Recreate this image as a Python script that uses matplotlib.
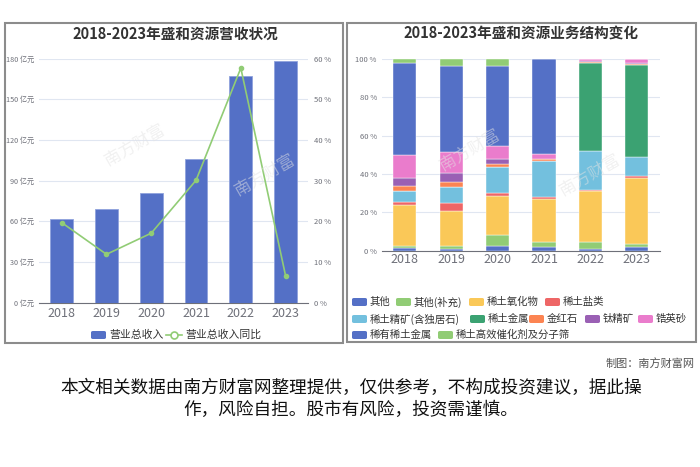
import matplotlib
matplotlib.use("Agg")
import matplotlib.pyplot as plt
from matplotlib.patches import Rectangle, FancyBboxPatch
from matplotlib.lines import Line2D
import numpy as np

plt.rcParams['font.family'] = ['Noto Sans CJK SC', 'DejaVu Sans']

years = ['2018', '2019', '2020', '2021', '2022', '2023']
revenue = [61.9, 69.3, 81.1, 105.9, 167.1, 178.3]          # 亿元
revenue_yoy = [19.7, 11.9, 17.1, 30.1, 57.7, 6.6]            # %

seg_names = ['其他', '其他(补充)', '稀土氧化物', '稀土盐类', '稀土精矿(含独居石)',
             '稀土金属', '金红石', '钛精矿', '锆英砂', '稀有稀土金属',
             '稀土高效催化剂及分子筛']
seg_other = [1.4, 1.0, 2.3, 1.9, 0.9, 2.1]
seg_other_sup = [1.0, 1.3, 5.9, 2.6, 3.8, 1.4]
seg_oxide = [21.3, 18.6, 20.1, 22.3, 26.3, 34.6]
seg_salt = [1.5, 4.0, 1.6, 1.4, 0.7, 1.1]
seg_concentrate = [6.1, 8.3, 13.8, 18.8, 20.3, 9.9]
seg_metal = [0.0, 0.0, 0.0, 0.0, 46.0, 47.8]
seg_rutile = [2.4, 2.6, 1.7, 0.7, 0.5, 0.5]
seg_ilmenite = [4.2, 4.9, 2.6, 0.0, 0.3, 0.3]
seg_zircon = [12.0, 11.0, 6.6, 2.8, 1.2, 2.3]
seg_rare_metal = [48.2, 44.5, 41.7, 49.5, 0.0, 0.0]
seg_catalyst = [1.9, 3.8, 3.7, 0.0, 0.0, 0.0]
segments = [seg_other, seg_other_sup, seg_oxide, seg_salt, seg_concentrate,
            seg_metal, seg_rutile, seg_ilmenite, seg_zircon, seg_rare_metal,
            seg_catalyst]
seg_colors = ['#5470c6', '#91cc75', '#fac858', '#ee6666', '#73c0de', '#3ba272',
              '#fc8452', '#9a60b4', '#ea7ccc', '#5470c6', '#91cc75']

W, H = 700, 467
fig = plt.figure(figsize=(W / 100, H / 100), dpi=100)
fig.patch.set_facecolor('white')

def fx(px):
    return px / W

def fy(py):
    return 1 - py / H

tick_col = '#6e7079'
grid_col = '#e0e6f1'

# panel borders
for (x0, y0, x1, y1) in [(5, 23, 343, 343), (347, 23, 696, 342)]:
    fig.add_artist(Rectangle((fx(x0), fy(y1)), fx(x1 - x0), (y1 - y0) / H,
                             transform=fig.transFigure, fill=False,
                             edgecolor='#8c8c8c', linewidth=1.5, zorder=0))

# faint watermarks inside plot areas
wm_kw = dict(transform=fig.transFigure, zorder=0.5)
for (x, y) in [(135, 145), (265, 175), (470, 150), (590, 175)]:
    fig.text(fx(x), fy(y), '南方财富', fontsize=12, color='#e3e3e3', alpha=0.5,
             ha='center', va='center', rotation=30, **wm_kw)

# ---------------- Left chart ----------------
axL = fig.add_axes([fx(39.3), fy(302.7), fx(308 - 39.3), (302.7 - 58.7) / H])
x = np.arange(len(years))
axL.bar(x, revenue, width=0.51, color='#5470c6', edgecolor='#8fa2dd',
        linewidth=0.6, zorder=3)
axL.set_xlim(-0.5, len(years) - 0.5)
axL.set_ylim(0, 180)
axL.set_yticks(np.arange(0, 181, 30))
axL.set_yticklabels([f'{v} 亿元' for v in range(0, 181, 30)], fontsize=5.2, color=tick_col)
axL.set_xticks(x)
axL.set_xticklabels(years, fontsize=9, color=tick_col)
axL.grid(axis='y', color=grid_col, linewidth=0.8, zorder=0)
for s in ['top', 'right', 'left']:
    axL.spines[s].set_visible(False)
axL.spines['bottom'].set_color(tick_col)
axL.tick_params(axis='y', length=0, pad=3.5)
axL.tick_params(axis='x', length=0, pad=3)
axL.patch.set_alpha(0)

axL2 = axL.twinx()
axL2.plot(x, revenue_yoy, color='#91cc75', linewidth=1.2, marker='o', markersize=3,
          markerfacecolor='#91cc75', markeredgecolor='#91cc75', zorder=4)
axL2.set_ylim(0, 60)
axL2.set_yticks(np.arange(0, 61, 10))
axL2.set_yticklabels([f'{v} %' for v in range(0, 61, 10)], fontsize=5.5, color=tick_col)
axL2.tick_params(axis='y', length=0, pad=4)
for s in ['top', 'right', 'left', 'bottom']:
    axL2.spines[s].set_visible(False)

fig.text(fx(175), fy(34), '2018-2023年盛和资源营收状况', fontsize=10.5, fontweight='bold',
         color='#333333', ha='center', va='center')

# left legend
fig.add_artist(FancyBboxPatch((fx(91), fy(339)), fx(15), 8 / H,
                              boxstyle='round,pad=0,rounding_size=0.003',
                              transform=fig.transFigure, facecolor='#5470c6',
                              edgecolor='none'))
fig.text(fx(109), fy(335), '营业总收入', fontsize=7.8, color='#333333', ha='left', va='center')
fig.add_artist(Line2D([fx(166), fx(182)], [fy(335), fy(335)], transform=fig.transFigure,
                      color='#91cc75', linewidth=1.2))
fig.add_artist(Line2D([fx(174)], [fy(335)], transform=fig.transFigure, marker='o',
                      markersize=5, markerfacecolor='white', markeredgecolor='#91cc75',
                      markeredgewidth=1.2))
fig.text(fx(185), fy(335), '营业总收入同比', fontsize=7.8, color='#333333', ha='left', va='center')

# ---------------- Right chart ----------------
axR = fig.add_axes([fx(381.7), fy(250.7), fx(660 - 381.7), (250.7 - 59) / H])
bottom = np.zeros(len(years))
for vals, col in zip(segments, seg_colors):
    v = np.array(vals, dtype=float)
    axR.bar(x, v, bottom=bottom, width=0.5, color=col, edgecolor='white',
            linewidth=0.3, zorder=3)
    bottom += v
axR.set_xlim(-0.5, len(years) - 0.5)
axR.set_ylim(0, 100)
axR.set_yticks(np.arange(0, 101, 20))
axR.set_yticklabels([f'{v} %' for v in range(0, 101, 20)], fontsize=5.5, color=tick_col)
axR.set_xticks(x)
axR.set_xticklabels(years, fontsize=9, color=tick_col)
axR.grid(axis='y', color=grid_col, linewidth=0.8, zorder=0)
for s in ['top', 'right', 'left']:
    axR.spines[s].set_visible(False)
axR.spines['bottom'].set_color(tick_col)
axR.tick_params(axis='y', length=0, pad=3.5)
axR.tick_params(axis='x', length=0, pad=2)
axR.patch.set_alpha(0)

fig.text(fx(521), fy(34), '2018-2023年盛和资源业务结构变化', fontsize=10.5, fontweight='bold',
         color='#333333', ha='center', va='center')

# right legend (flow layout positions)
leg_pos = [(352, 302), (396, 302), (469, 302), (545, 302),
           (352, 319), (470, 319), (529, 319), (585, 319), (638, 319),
           (352, 335), (438, 335)]
for name, col, (lx, ly) in zip(seg_names, seg_colors, leg_pos):
    fig.add_artist(FancyBboxPatch((fx(lx), fy(ly + 4)), fx(15), 8 / H,
                                  boxstyle='round,pad=0,rounding_size=0.003',
                                  transform=fig.transFigure, facecolor=col,
                                  edgecolor='none'))
    fig.text(fx(lx + 18), fy(ly), name, fontsize=7.5, color='#333333',
             ha='left', va='center')

# footer
fig.text(fx(695), fy(363), '制图：南方财富网', fontsize=8, color='#555555',
         ha='right', va='center')
fig.text(fx(351), fy(388), '本文相关数据由南方财富网整理提供，仅供参考，不构成投资建议，据此操',
         fontsize=12.7, color='#111111', ha='center', va='center')
fig.text(fx(351), fy(410), '作，风险自担。股市有风险，投资需谨慎。',
         fontsize=12.7, color='#111111', ha='center', va='center')

fig.savefig('out.png', dpi=100, facecolor='white')
